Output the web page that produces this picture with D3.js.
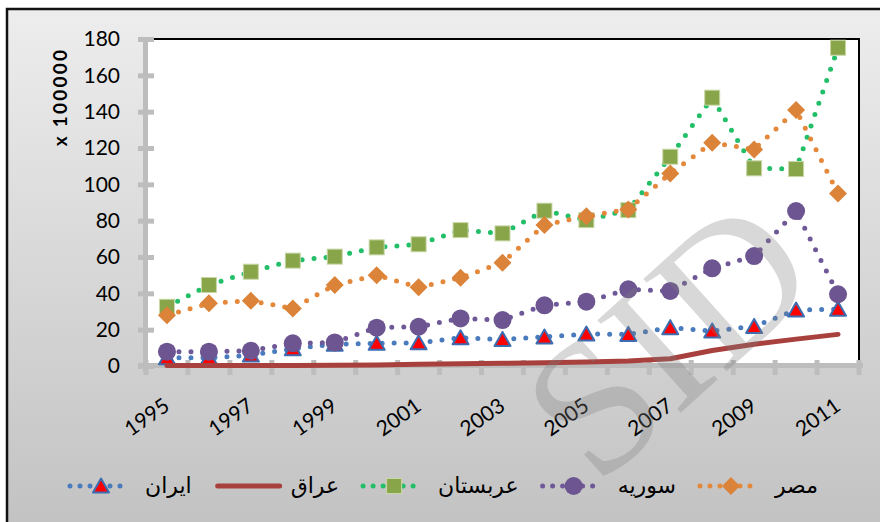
<html>
<head>
	<meta charset="utf-8">
	<title>chart</title>
	<style>
		body { margin:0; background:#fff; }
	</style>
	<script src="https://d3js.org/d3.v7.min.js" charset="utf-8"></script>
</head>
<body>
<script type="text/javascript">

	/************** Data *****************/
	var years = ["1995","1996","1997","1998","1999","2000","2001","2002","2003","2004","2005","2006","2007","2008","2009","2010","2011"];
	var xLabels = ["1995","1997","1999","2001","2003","2005","2007","2009","2011"];
	var yTicks = [0,20,40,60,80,100,120,140,160,180];
	var seriesNames = ["ایران","عراق","عربستان","سوریه","مصر"];

	var iran  = [4.5, 4.5, 6, 9.5, 12, 12.5, 12.8, 15.5, 14.6, 16, 17.6, 17.4, 21.1, 19.3, 21.8, 30.8, 31.3];
	var iraq  = [0.3, 0.3, 0.3, 0.3, 0.4, 0.6, 0.9, 1.2, 1.5, 1.8, 2.2, 2.8, 4, 8.5, 12, 14.8, 17.4];
	var saudi = [32.6, 44.6, 51.9, 58, 60.2, 65.3, 67, 74.8, 73, 85.5, 80.3, 85.8, 115.2, 147.7, 108.8, 108.4, 175.2];
	var syria = [7.9, 7.9, 8.4, 12.5, 13, 21.1, 21.6, 26.2, 25.3, 33.4, 35.4, 42.2, 41.3, 53.8, 60.5, 85.3, 39.5];
	var egypt = [28, 34.5, 35.9, 31.7, 44.6, 50, 43.3, 48.6, 56.9, 77.6, 82.5, 86.2, 106, 122.9, 119.2, 140.9, 95];

	/************** Layout *****************/
	var width = 880, height = 522;
	var plot = {left:146, right:859, top:39, bottom:366};
	var axisGray = "#bdbdbd";

	var series = [
		{name:seriesNames[0], values:iran,  line:"#4a7bbd", dotted:true,  marker:"triangle", fill:"#ff0000", stroke:"#3d6cb0"},
		{name:seriesNames[1], values:iraq,  line:"#a8403d", dotted:false, marker:"none"},
		{name:seriesNames[2], values:saudi, line:"#22bf68", dotted:true,  marker:"square",   fill:"#89a54a", stroke:"#c8d7a6"},
		{name:seriesNames[3], values:syria, line:"#6e5897", dotted:true,  marker:"circle",   fill:"#6c5591", stroke:"none"},
		{name:seriesNames[4], values:egypt, line:"#e4893b", dotted:true,  marker:"diamond",  fill:"#db8338", stroke:"none"}
	];

	var svg = d3.select("body")
			.append("svg")
			.attr("width",width)
			.attr("height",height);

	// background gradient of the chart area
	var defs = svg.append("defs");
	var grad = defs.append("linearGradient").attr("id","bg")
			.attr("x1",0).attr("y1",0).attr("x2",0).attr("y2",1);
	grad.append("stop").attr("offset","0%").attr("stop-color","#ededed");
	grad.append("stop").attr("offset","100%").attr("stop-color","#c2c2c2");

	svg.append("rect")
		.attr("x",7).attr("y",9)
		.attr("width",width).attr("height",height)
		.attr("fill","url(#bg)")
		.attr("stroke","#111")
		.attr("stroke-width",2.5);

	/************** Scales *****************/
	var x = d3.scaleBand().domain(years).range([plot.left, plot.right]);
	var y = d3.scaleLinear().domain([0,180]).range([plot.bottom, plot.top]);
	function cx(i){ return x(years[i]) + x.bandwidth()/2; }

	// plot area
	svg.append("rect")
		.attr("x",plot.left).attr("y",plot.top)
		.attr("width",plot.right-plot.left).attr("height",plot.bottom-plot.top)
		.attr("fill","#fff");
	svg.append("path")
		.attr("d","M"+(plot.left+8)+","+plot.top+"H"+plot.right+"V"+(plot.bottom-4))
		.attr("fill","none").attr("stroke","#000").attr("stroke-width",2);

	/************** Axes *****************/
	// y axis
	var yAxis = d3.axisLeft(y).tickValues(yTicks).tickSize(16).tickPadding(18);
	var gy = svg.append("g").attr("transform","translate(154,0)").call(yAxis);
	gy.select(".domain").remove();
	gy.selectAll(".tick line").attr("stroke",axisGray).attr("stroke-width",5);
	gy.selectAll(".tick text")
		.attr("font-family","Lato, 'Liberation Sans', sans-serif")
		.attr("font-size","21px")
		.attr("fill","#000");
	svg.append("line")
		.attr("x1",145.5).attr("x2",145.5)
		.attr("y1",plot.top-1).attr("y2",plot.bottom+6)
		.attr("stroke",axisGray).attr("stroke-width",5);

	// x axis
	svg.append("line")
		.attr("x1",138).attr("x2",plot.right+4)
		.attr("y1",plot.bottom-0.5).attr("y2",plot.bottom-0.5)
		.attr("stroke",axisGray).attr("stroke-width",5);
	var bounds = years.map(function(d){ return x(d); }).concat([plot.right]);
	svg.selectAll(".xtick")
		.data(bounds)
		.enter()
		.append("line")
		.attr("class","xtick")
		.attr("x1",function(d){ return d; }).attr("x2",function(d){ return d; })
		.attr("y1",plot.bottom-6).attr("y2",plot.bottom+9)
		.attr("stroke",axisGray).attr("stroke-width",5);

	var xAxis = d3.axisBottom(x).tickValues(xLabels).tickSize(0);
	var gx = svg.append("g").attr("transform","translate(0,"+plot.bottom+")").call(xAxis);
	gx.select(".domain").remove();
	gx.selectAll(".tick text")
		.attr("x",0).attr("y",0).attr("dy",0)
		.attr("text-anchor","end")
		.attr("transform","translate(4,43) rotate(-35)")
		.attr("font-family","Lato, 'Liberation Sans', sans-serif")
		.attr("font-size","21px")
		.attr("fill","#000");

	// y axis title
	svg.append("text")
		.attr("transform","translate(67,97) rotate(-90)")
		.attr("text-anchor","middle")
		.attr("font-family","Lato, 'Liberation Sans', sans-serif")
		.attr("font-weight","bold")
		.attr("font-size","19px")
		.attr("letter-spacing","2.2px")
		.text("x 100000");

	/************** Series *****************/
	function drawMarker(g, s){
		if(s.marker == "triangle"){
			g.append("path").attr("d","M0,-7.5L8,6.5L-8,6.5Z")
				.attr("fill",s.fill).attr("stroke",s.stroke).attr("stroke-width",2).attr("stroke-linejoin","round");
		} else if(s.marker == "square"){
			g.append("rect").attr("x",-7.5).attr("y",-7.5).attr("width",15).attr("height",15)
				.attr("fill",s.fill).attr("stroke",s.stroke).attr("stroke-width",1);
		} else if(s.marker == "circle"){
			g.append("circle").attr("r",9).attr("fill",s.fill);
		} else if(s.marker == "diamond"){
			g.append("path").attr("d","M0,-9L9,0L0,9L-9,0Z").attr("fill",s.fill);
		}
	}

	var line = d3.line()
			.x(function(d,i){ return cx(i); })
			.y(function(d){ return y(d); });

	series.forEach(function(s){
		var p = svg.append("path")
			.datum(s.values)
			.attr("d",line)
			.attr("fill","none")
			.attr("stroke",s.line)
			.attr("stroke-width",5)
			.attr("stroke-linecap","round")
			.attr("stroke-linejoin","round");
		if(s.dotted) p.attr("stroke-dasharray","0,12");
		if(s.marker != "none"){
			svg.append("g").selectAll("g")
				.data(s.values)
				.enter()
				.append("g")
				.attr("transform",function(d,i){ return "translate("+cx(i)+","+y(d)+")"; })
				.each(function(){ drawMarker(d3.select(this), s); });
		}
	});

	/************** Legend *****************/
	var legend = svg.append("g").attr("transform","translate(0,486)");
	var lx = 68;
	series.forEach(function(s){
		var g = legend.append("g").attr("transform","translate("+lx+",0)");
		var l = g.append("line")
			.attr("x1",s.dotted?2:4).attr("x2",s.dotted?62:66)
			.attr("stroke",s.line).attr("stroke-width",5).attr("stroke-linecap","round");
		if(s.dotted) l.attr("stroke-dasharray","0,10");
		if(s.marker != "none") drawMarker(g.append("g").attr("transform","translate(33,0)"), s);
		var t = g.append("text")
			.attr("x",77).attr("dy","0.32em")
			.attr("font-family","'DejaVu Sans', sans-serif")
			.attr("font-size","22px")
			.attr("fill","#000")
			.text(s.name);
		lx += 77 + t.node().getComputedTextLength() + 22;
	});

	/************** Watermark *****************/
	svg.append("text")
		.attr("transform","translate(668,338) rotate(-42)")
		.attr("text-anchor","middle")
		.attr("dominant-baseline","central")
		.attr("font-family","'Liberation Serif', serif")
		.attr("font-size","190px")
		.attr("fill","#808080")
		.attr("opacity",0.3)
		.text("SID");

</script>
</body>
</html>
